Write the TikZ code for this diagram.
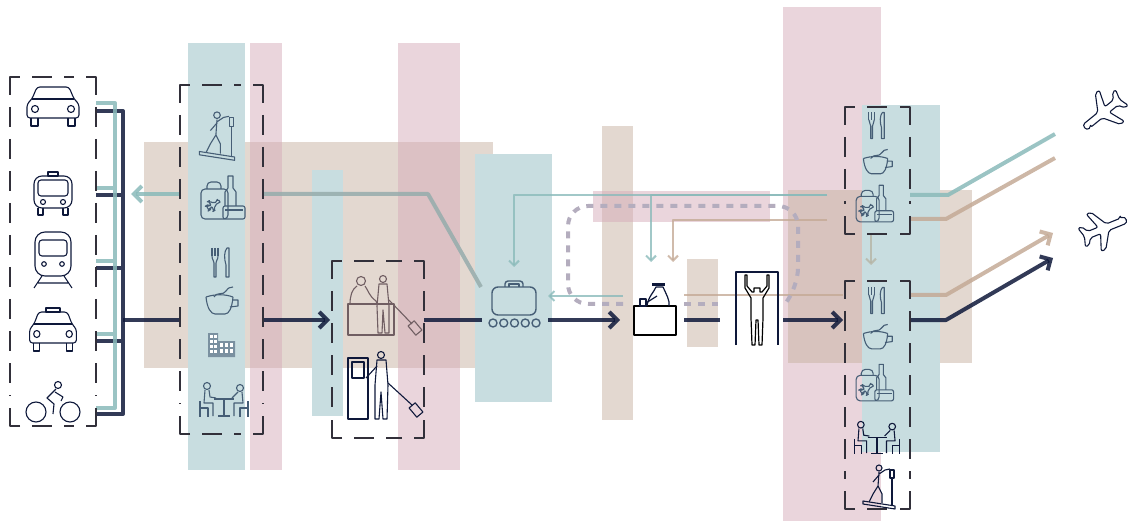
\documentclass[tikz,border=0pt]{standalone}
\usetikzlibrary{arrows.meta}

\definecolor{navy}{RGB}{14,24,58}
\definecolor{slate}{RGB}{70,94,118}
\definecolor{warmink}{RGB}{112,94,98}
\definecolor{boxgrey}{RGB}{50,48,58}
\definecolor{tealln}{RGB}{138,186,186}
\definecolor{greytealln}{RGB}{150,172,172}
\definecolor{tanln}{RGB}{196,170,150}
\definecolor{sageln}{RGB}{182,180,164}
\definecolor{loopgrey}{RGB}{180,173,190}
\definecolor{tealbg}{RGB}{200,221,224}
\definecolor{pinkbg}{RGB}{213,171,185}
\definecolor{beigebg}{RGB}{199,177,161}

\tikzset{
  % ground transport
  car/.pic={
    \draw[rounded corners=1.5pt] (-26,13) -- (-26,-1) -- (-21,-6) -- (-16,-18) -- (16,-18) -- (21,-6) -- (26,-1) -- (26,13) -- cycle;
    \draw (-21,-6) -- (21,-6);
    \draw (-18,4) circle (3.5) (18,4) circle (3.5);
    \draw (-22,13) -- (-22,21) -- (-15,21) -- (-15,13) (15,13) -- (15,21) -- (22,21) -- (22,13);
  },
  taxi/.pic={
    \pic[xscale=0.9] {car};
    \draw (-7,-22) rectangle (7,-18);
  },
  bus/.pic={
    \draw[rounded corners=4pt] (-19,15) -- (-19,-17) -- (19,-17) -- (19,15) -- cycle;
    \draw (-5,-21) rectangle (5,-17);
    \draw[rounded corners=1.5pt] (-15,-13) rectangle (15,3);
    \draw (-10,9) circle (2.5) (10,9) circle (2.5);
    \draw (-15,15) -- (-15,22) -- (-10,22) -- (-10,15) (10,15) -- (10,22) -- (15,22) -- (15,15);
  },
  train/.pic={
    \draw[rounded corners=5pt] (-18,18) -- (-18,-26) -- (18,-26) -- (18,18) -- cycle;
    \draw[rounded corners=1.5pt] (-14,-18) rectangle (14,-2);
    \draw (-9,6) circle (2.3) (9,6) circle (2.3);
    \draw (-11,18) -- (-19,30) (11,18) -- (19,30) (-15,25) -- (15,25);
  },
  bike/.pic={
    \draw (-17,12) circle (10) (17,12) circle (10);
    \draw (5,-15) circle (3.5);
    \draw (3,-11) -- (-6,-2) -- (1,4) -- (0,14);
    \draw (2,-8) -- (10,-3) -- (8,1);
  },
  plane/.pic={
    \draw[rounded corners=1pt] (20,-3.5) -- (5,-3.5) -- (-5,-20) -- (-10,-20) -- (-4,-3.5) -- (-15,-3.5) -- (-19,-10) -- (-23,-10) -- (-20,0) -- (-23,10) -- (-19,10) -- (-15,3.5) -- (-4,3.5) -- (-10,20) -- (-5,20) -- (5,3.5) -- (20,3.5) .. controls (26,3.5) and (26,-3.5) .. (20,-3.5) -- cycle;
  },
  % terminal amenities
  cutlery/.pic={
    \draw (-9,-15) -- (-9,-7) (-6,-15) -- (-6,-7) (-3,-15) -- (-3,-7);
    \draw (-9,-7) .. controls (-9,-3) and (-7,-3) .. (-7,0) -- (-7,14) -- (-5,14) -- (-5,0) .. controls (-5,-3) and (-3,-3) .. (-3,-7);
    \draw (5,14) -- (5,2) .. controls (3,-4) and (3,-12) .. (6,-15) -- (8,-15) -- (8,14) -- cycle;
  },
  cup/.pic={
    \draw (-14,-5) .. controls (-13,6) and (-9,12) .. (-5,12) -- (5,12) .. controls (9,12) and (12,6) .. (13,-5);
    \draw (-14,-5) .. controls (-5,-8) and (5,-8) .. (13,-5);
    \draw (12,-2) -- (18,-2) -- (18,4) -- (10,5);
    \draw (-6,-5) .. controls (-2,-11) and (3,-6) .. (6,-11) .. controls (8,-14) and (10,-15) .. (13,-15);
  },
  shop/.pic={
    \draw[rounded corners=2pt] (-21,-9) rectangle (6,21);
    \draw[rounded corners=2pt] (-15,-9) -- (-15,-16) -- (-1,-16) -- (-1,-9);
    \pic[scale=0.28, rotate=30] at (-9,7) {plane};
    \draw (3,8) -- (3,-6) -- (6,-10) -- (6,-22) -- (11,-22) -- (11,-10) -- (14,-6) -- (14,8);
    \draw[rounded corners=1pt] (1,8) rectangle (23,21);
    \draw (3,12) -- (21,12);
  },
  hotel/.pic={
    \fill[fill opacity=0.6] (-13,12) -- (-13,-12) -- (-3,-12) -- (-3,-4) -- (14,-4) -- (14,12) -- cycle;
    \foreach \i in {0,1}
      \foreach \j in {0,...,3}
        \fill[white] (-11+\i*4,-10+\j*5) rectangle ++(2.5,3);
    \foreach \i in {0,1,2}
      \foreach \j in {0,1}
        \fill[white] (-1+\i*5,-2+\j*6) rectangle ++(3,4);
  },
  cafe/.pic={
    \draw (-10,-1) -- (10,-1) (0,-1) -- (0,16) (-6,16) -- (6,16);
    \draw (-17,-14) circle (3.5);
    \draw (-19,-10) -- (-20,3) -- (-11,3) -- (-11,16) (-15,-10) -- (-14,-3) -- (-8,-2);
    \draw (-24,1) -- (-24,17) (-24,8) -- (-16,8) -- (-16,17);
    \draw (16,-12) circle (3.5);
    \draw (18,-8) -- (19,3) -- (10,3) -- (10,16) (14,-8) -- (8,-2);
    \draw (24,1) -- (24,17) (24,8) -- (16,8) -- (16,17);
  },
  escalator/.pic={
    \draw (-16,15) -- (16,20) -- (16,23) -- (-16,18) -- cycle;
    \draw (13,20) -- (13,-8) (11,-16) rectangle (15,-8);
    \draw (0,-18) circle (3);
    \draw (0,-14) -- (-1,0) -- (-6,8) -- (-10,16) (-1,0) -- (3,8) -- (3,17);
    \draw (0,-12) -- (6,-16) -- (11,-17) (0,-11) -- (-6,-4);
  },
}

\begin{document}
\begin{tikzpicture}[x=0.5pt, y=-0.5pt, line join=round,
    band/.style={fill=#1, fill opacity=0.5},
    zone/.style={fill=tealbg},
    groupbox/.style={draw=boxgrey, line width=0.6pt},
    flow/.style={line width=2pt, draw opacity=0.85},
    feed/.style={line width=1pt, draw opacity=0.8},
    loopline/.style={loopgrey, line width=2pt, dash pattern=on 3.5pt off 3.5pt},
    bigtip/.style={-{Straight Barb[length=4pt, width=8pt]}},
    smalltip/.style={-{Straight Barb[length=2.5pt, width=5pt]}},
    every pic/.style={line width=0.55pt}]
  \useasboundingbox (0,0) rectangle (1133,523);

  % zones
  \fill[band=beigebg] (144,142) rectangle (493,368);
  \fill[band=pinkbg] (250,43) rectangle (282,470);
  \fill[band=pinkbg] (398,43) rectangle (460,470);
  \fill[band=beigebg] (602,126) rectangle (633,420);
  \fill[band=pinkbg] (593,191) rectangle (770,222);
  \fill[band=beigebg] (687,259) rectangle (718,347);
  \fill[band=pinkbg] (783,7) rectangle (881,521);
  \fill[band=beigebg] (788,190) rectangle (972,363);
  \fill[zone] (188,43) rectangle (245,470);
  \fill[zone] (312,170) rectangle (343,416);
  \fill[zone] (475,154) rectangle (552,402);
  \fill[zone] (862,105) rectangle (940,452);

  % departures spine
  \coordinate (kerb) at (123,320);
  \coordinate (plazaW) at (180,320);
  \coordinate (plazaE) at (263,320);
  \coordinate (checkinW) at (330,320);
  \coordinate (checkinE) at (424,320);
  \coordinate (beltW) at (482,320);
  \coordinate (beltE) at (548,320);
  \coordinate (passport) at (620,320);
  \coordinate (deskE) at (684,320);
  \coordinate (scanW) at (720,320);
  \coordinate (scanE) at (783,320);
  \coordinate (airsideW) at (843,320);
  \coordinate (airsideE) at (910,320);
  \coordinate (gateOut) at (1053,258);

  \draw[flow, navy] (96,111) -- (123,111) -- (123,414) -- (96,414)
    (96,195) -- (123,195) (96,268) -- (123,268) (96,341) -- (123,341);
  \draw[flow, navy] (kerb) -- (plazaW);
  \draw[flow, navy, bigtip] (plazaE) -- (checkinW);
  \draw[flow, navy] (checkinE) -- (beltW);
  \draw[flow, navy, bigtip] (beltE) -- (passport);
  \draw[flow, navy] (deskE) -- (scanW);
  \draw[flow, navy, bigtip] (scanE) -- (airsideW);
  \draw[flow, navy, bigtip] (airsideE) -- ++(36,0) -- (gateOut);

  % transfer and arrival paths
  \coordinate (topE) at (910,195);
  \coordinate (topW) at (827,195);
  \draw[flow, tanln, bigtip] (910,295) -- (946,295) -- (1053,233);
  \draw[flow, tanln] (910,219) -- (946,219) -- (1055,158);
  \draw[flow, tealln] (topE) -- (948,195) -- (1055,134);
  \draw[feed, sageln, smalltip] (871,234) -- (871,265);
  \draw[feed, tanln] (843,295) -- (deskE |- 0,295);
  \draw[feed, tanln, smalltip] (827,220) -- (673,220) -- (673,262);
  \draw[feed, tealln, smalltip] (topW) -- (514,195) -- (514,267);
  \draw[feed, tealln, smalltip] (topW) -- (651,195) -- (651,262);
  \draw[feed, tealln, smalltip] (623,296) -- (548,296);
  \draw[flow, greytealln] (263,194) -- (428,194) -- (481,287);
  \draw[flow, tealln] (96,103) -- (115,103) -- (115,408) -- (96,408)
    (96,188) -- (115,188) (96,261) -- (115,261) (96,334) -- (115,334);
  \draw[flow, tealln, bigtip] (180,194) -- (131,194);

  % security loop
  \draw[loopline, rounded corners=10pt] (623,304) -- (568,304) -- (568,206) -- (798,206) -- (798,288) -- (784,305);
  \draw[loopline] (684,304) -- (718,304);

  % groups: solid corners, dashed sides
  \foreach \xa/\ya/\xb/\yb in {10/77/96/426, 180/85/263/434, 332/261/424/438, 845/107/910/234, 845/281/910/509} {
    \draw[groupbox] (\xa,\ya+18) -- (\xa,\ya) -- (\xa+10,\ya)
      (\xb-10,\ya) -- (\xb,\ya) -- (\xb,\ya+18)
      (\xb,\yb-18) -- (\xb,\yb) -- (\xb-10,\yb)
      (\xa+10,\yb) -- (\xa,\yb) -- (\xa,\yb-18);
    \draw[groupbox, dash pattern=on 10pt off 6pt]
      (\xa+22,\ya) -- (\xb-22,\ya) (\xa+22,\yb) -- (\xb-22,\yb)
      (\xa,\ya+30) -- (\xa,\yb-30) (\xb,\ya+30) -- (\xb,\yb-30);
  }

  % vehicles
  \pic[navy] at (53,105) {car};
  \pic[navy] at (53,193) {bus};
  \pic[navy] at (53,258) {train};
  \pic[navy] at (53,330) {taxi};
  \pic[navy] at (53,400) {bike};

  % landside amenities
  \pic[slate, scale=1.1] at (217,135) {escalator};
  \pic[slate] at (222,198) {shop};
  \pic[slate] at (221,263) {cutlery};
  \pic[slate] at (220,302) {cup};
  \pic[slate] at (221,345) {hotel};
  \pic[slate] at (224,400) {cafe};

  % check-in counter
  \begin{scope}[warmink, line width=0.55pt]
    \draw (348,304) rectangle (394,335);
    \draw (361,281) circle (4.5);
    \draw (357,286) .. controls (352,289) and (350,296) .. (350,304);
    \draw (365,286) .. controls (368,290) and (369,296) .. (376,301) -- (377,304);
    \draw (383,279) circle (3.5);
    \draw (379,284) -- (377,306) -- (378,333) -- (382,333) -- (383,310) -- (385,333) -- (389,333) -- (389,306) -- (387,284) -- cycle;
    \draw (389,300) -- (412,324);
    \draw[rotate around={40:(415,328)}] (411,322) rectangle (419,334);
  \end{scope}
  % self-service kiosk
  \begin{scope}[navy, line width=0.55pt]
    \draw (348,419) -- (348,358) -- (368,358) -- (368,419) -- cycle;
    \draw (352,362) rectangle (364,378);
    \draw (381,355) circle (3.5);
    \draw (377,360) -- (375,385) -- (375,419) -- (379,419) -- (381,392) -- (383,419) -- (387,419) -- (388,385) -- (386,360) -- cycle;
    \draw (377,366) -- (366,378);
    \draw (388,383) -- (412,405);
    \draw[rotate around={40:(416,410)}] (412,404) rectangle (420,416);
  \end{scope}

  % baggage belt
  \begin{scope}[slate, line width=0.7pt]
    \draw[rounded corners=3pt] (492,287) rectangle (536,315);
    \draw[rounded corners=1.5pt] (505,287) -- (505,281) -- (523,281) -- (523,287);
    \draw (509,287) -- (509,284) -- (519,284) -- (519,287);
    \foreach \i in {0,...,4}
      \draw (493+\i*10.75,323) circle (4);
  \end{scope}

  % passport desk
  \draw[line width=0.7pt, fill=white] (634,306) rectangle (676,335);
  \begin{scope}[navy, line width=0.6pt]
    \draw (647,306) .. controls (648,297) and (654,292) .. (656,287) -- (663,287) .. controls (666,294) and (670,300) .. (669,306);
    \fill (652,283) rectangle (665,286);
    \draw (657,296) -- (646,303);
    \draw (640,299) rectangle (646,306);
  \end{scope}

  % body scanner
  \draw[navy, line width=0.8pt] (736,345) -- (736,272) -- (778,272) -- (778,345);
  \draw[black, line width=0.6pt, shift={(757,310)}] (-12,-35) -- (-10,-35) -- (-10,-24) -- (-5,-18) -- (-3,-18) -- (-3,-22) -- (3,-22) -- (3,-18) -- (5,-18) -- (10,-24) -- (10,-35) -- (12,-35) -- (12,-22) -- (6,-12) -- (6,8) -- (5,35) -- (2,35) -- (1,10) -- (-1,10) -- (-2,35) -- (-5,35) -- (-6,8) -- (-6,-12) -- (-12,-22) -- cycle;

  % airside amenities
  \pic[slate, scale=0.9] at (877,126) {cutlery};
  \pic[slate, scale=0.9] at (876,163) {cup};
  \pic[slate, scale=0.85] at (874,204) {shop};
  \pic[slate, scale=0.9] at (877,301) {cutlery};
  \pic[slate, scale=0.9] at (876,338) {cup};
  \pic[slate, scale=0.85] at (874,383) {shop};
  \pic[navy, scale=0.95] at (877,438) {cafe};
  \pic[navy] at (879,486) {escalator};

  % aircraft
  \pic[navy, rotate=219] at (1104,112) {plane};
  \pic[navy, rotate=22] at (1103,229) {plane};
\end{tikzpicture}
\end{document}
